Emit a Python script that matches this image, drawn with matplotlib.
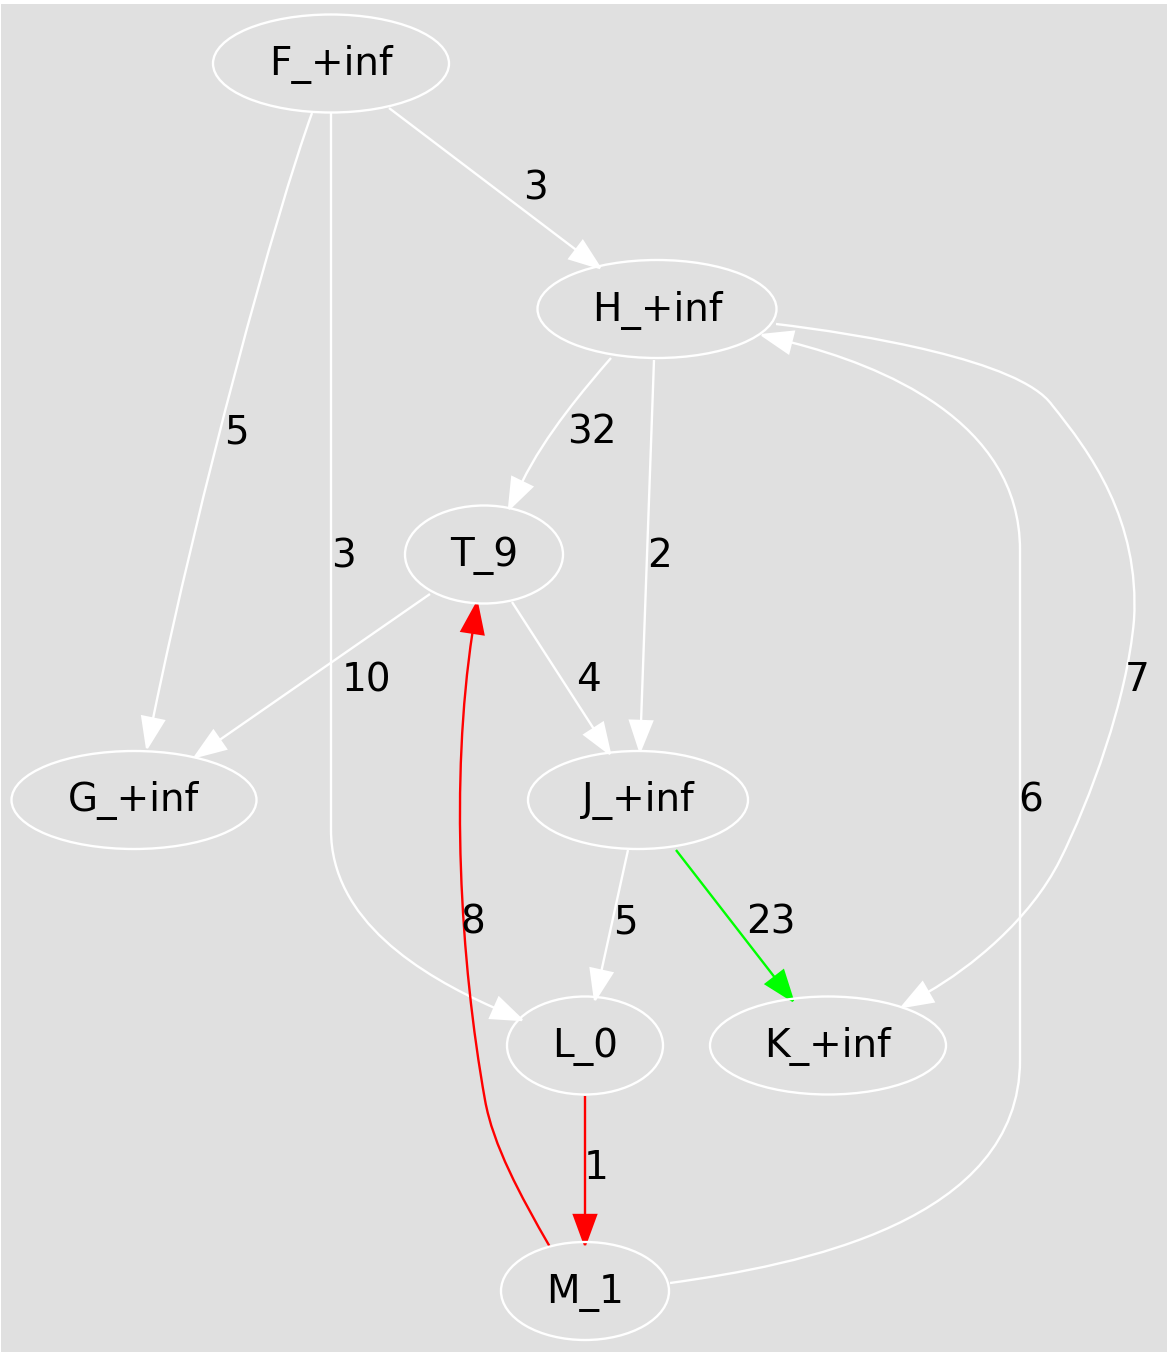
import matplotlib
matplotlib.use('Agg')
import matplotlib.pyplot as plt
from matplotlib.path import Path
from matplotlib.patches import PathPatch, Ellipse, Polygon, Rectangle
import numpy as np

# ---- data ----
node_ids = ["F", "H", "T", "G", "J", "L", "K", "M"]
node_labels = ["F_+inf", "H_+inf", "T_9", "G_+inf", "J_+inf", "L_0", "K_+inf", "M_1"]
edge_src = ["F", "F", "F", "H", "H", "H", "T", "T", "J", "J", "L", "M", "M"]
edge_dst = ["H", "G", "L", "T", "J", "K", "G", "J", "L", "K", "M", "T", "H"]
edge_weights = [3, 5, 3, 32, 2, 7, 10, 4, 5, 23, 1, 8, 6]
edge_colors = ["white", "white", "white", "white", "white", "white", "white",
               "white", "white", "#00ff00", "red", "red", "white"]

# ---- layout (pixel coordinates, as produced by a dot-style layout) ----
node_pos = {"F": (331, 63.5), "H": (657, 309), "T": (484, 554.5), "G": (134, 800),
            "J": (638, 800), "L": (585, 1045.5), "K": (828, 1045.5), "M": (585, 1291)}
node_rx = {"F": 118, "H": 119.5, "T": 79, "G": 122.5, "J": 110, "L": 78, "K": 118, "M": 84}
node_ry = 49

# each path: list of segments; 'L' -> [end], 'C' -> [c1, c2, end]
edge_paths = [
    [(389, 108), ('L', [(600, 268)])],
    [(312, 113), ('C', [(275, 215), (200, 490), (147, 748)])],
    [(331, 113), ('L', [(331, 830)]), ('C', [(331, 920), (420, 975), (522, 1020)])],
    [(611, 358), ('C', [(585, 388), (545, 435), (509, 509)])],
    [(654, 360), ('L', [(640, 751)])],
    [(776, 324), ('C', [(860, 334), (1020, 360), (1052, 405)]),
     ('C', [(1090, 452), (1140, 520), (1134, 620)]),
     ('C', [(1127, 700), (1090, 800), (1060, 860)]),
     ('C', [(1030, 920), (970, 968), (902, 1007)])],
    [(430, 594), ('L', [(195, 757)])],
    [(512, 602), ('L', [(610, 754)])],
    [(628, 850), ('L', [(595, 1000)])],
    [(676, 850), ('L', [(793, 1001)])],
    [(585, 1096), ('L', [(585, 1245)])],
    [(550, 1247), ('C', [(520, 1195), (493, 1145), (485, 1100)]),
     ('C', [(460, 960), (450, 780), (477, 603)])],
    [(670, 1283), ('C', [(800, 1265), (1020, 1222), (1020, 1060)]),
     ('L', [(1020, 550)]),
     ('C', [(1020, 420), (880, 365), (762, 335)])],
]
label_pos = [(535, 185), (236, 430), (343, 553), (592, 430), (660, 553), (1137, 677),
             (366, 677), (588, 677), (625, 920), (771, 920), (596, 1165), (473, 920),
             (1031, 798)]

FS = 28
HEAD_L = 30
HEAD_W = 11
LW = 1.7

fig = plt.figure(figsize=(11.75, 13.52), dpi=100)
fig.patch.set_facecolor('white')
ax = fig.add_axes([0, 0, 1, 1])
ax.set_xlim(0, 1175)
ax.set_ylim(1352, 0)
ax.axis('off')
ax.add_patch(Rectangle((1, 4), 1166, 1352, facecolor='#e0e0e0', edgecolor='none', zorder=0))

for nid, lab in zip(node_ids, node_labels):
    cx, cy = node_pos[nid]
    ax.add_patch(Ellipse((cx, cy), 2 * node_rx[nid], 2 * node_ry, facecolor='none',
                         edgecolor='white', lw=LW, zorder=2))
    ax.text(cx, cy + 11.5, lab, fontsize=FS, family='DejaVu Sans', color='black',
            ha='center', va='baseline', zorder=3)

for path, w, col, lp in zip(edge_paths, edge_weights, edge_colors, label_pos):
    start = path[0]
    verts = [start]
    codes = [Path.MOVETO]
    for kind, pts in path[1:]:
        if kind == 'L':
            verts += pts
            codes += [Path.LINETO]
        else:
            verts += pts
            codes += [Path.CURVE4] * 3
    tip = np.array(verts[-1], float)
    prev = np.array(verts[-2], float)
    d = tip - prev
    d /= np.linalg.norm(d)
    base = tip - HEAD_L * d
    verts[-1] = tuple(base)
    ax.add_patch(PathPatch(Path(verts, codes), facecolor='none', edgecolor=col,
                           lw=LW, zorder=1))
    n = np.array([-d[1], d[0]])
    tri = [tuple(tip), tuple(base + HEAD_W * n), tuple(base - HEAD_W * n)]
    ax.add_patch(Polygon(tri, closed=True, facecolor=col, edgecolor=col, lw=LW,
                         joinstyle='miter', zorder=1))
    ax.text(lp[0], lp[1] + 14, str(w), fontsize=FS, family='DejaVu Sans', color='black',
            ha='center', va='baseline', zorder=3)

fig.savefig('out.png', dpi=100, facecolor='white')
